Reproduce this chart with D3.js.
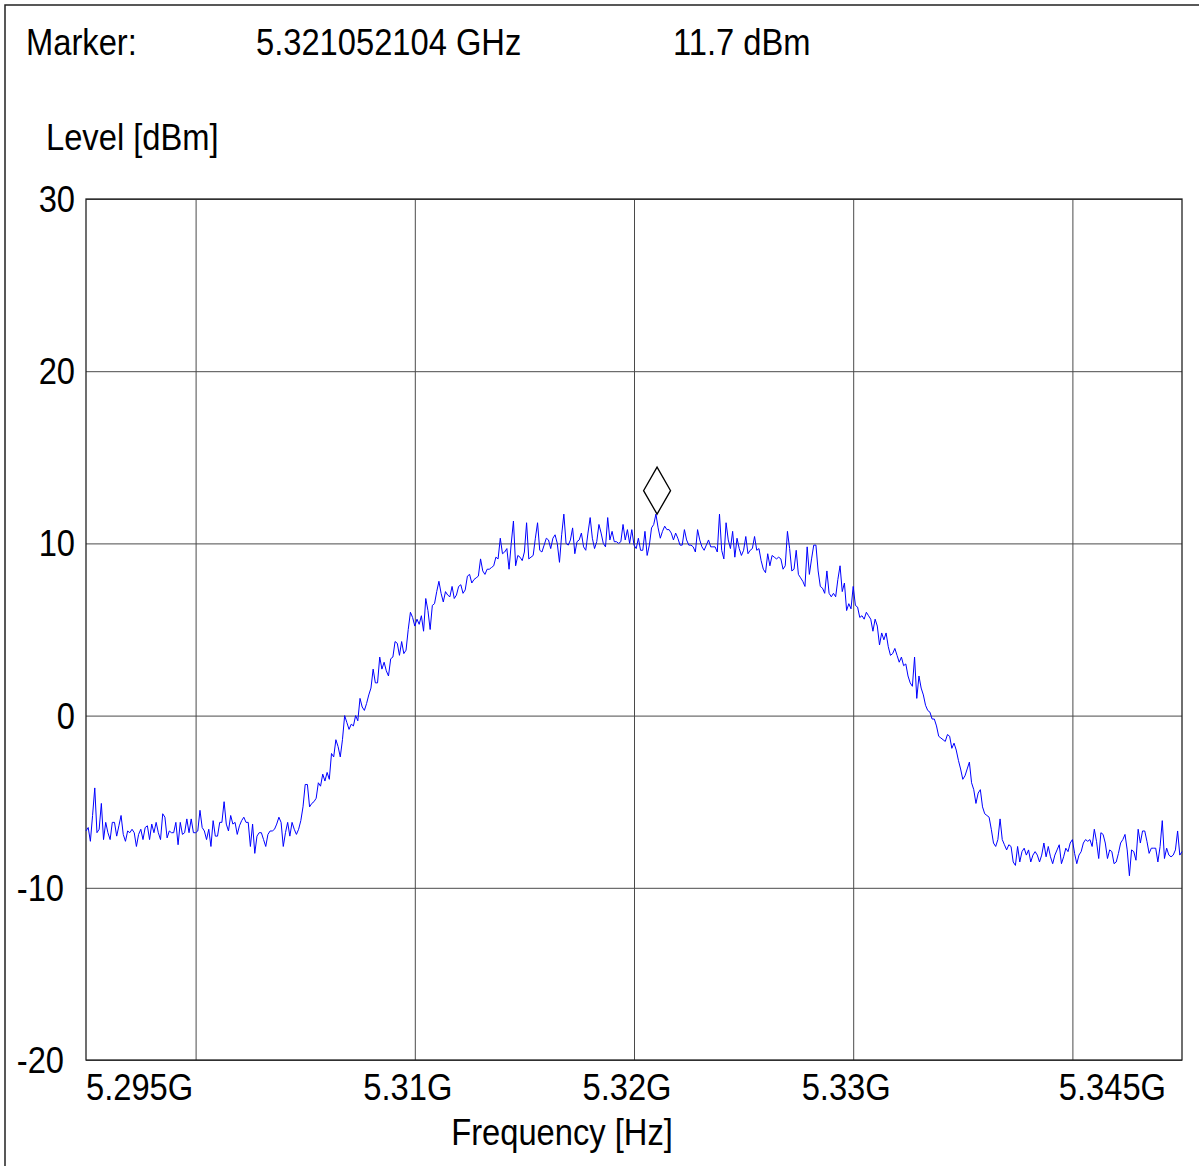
<!DOCTYPE html>
<html>
<head>
<meta charset="utf-8">
<script src="https://cdn.jsdelivr.net/npm/d3@7"></script>
<style>
  html, body { margin: 0; padding: 0; background: #fff; }
  svg { display: block; font-family: "Liberation Sans", Arial, sans-serif; }
</style>
</head>
<body>
<div id="chart"></div>
<script>
// sweep: 501 points, 0.1 MHz apart, starting at 5.295 GHz
const sweepStartHz = 5.295e9;
const sweepStepHz = 0.1e6;

const levelDbm = [
  -6.7,-6.5,-7.3,-5.8,-4.2,-6.8,-6.6,-5.1,-7.2,-6.2,
  -6.8,-7.2,-6.2,-6.2,-7.0,-6.4,-5.8,-6.9,-7.3,-6.7,
  -6.8,-6.6,-6.8,-7.6,-6.9,-6.6,-7.2,-6.5,-6.4,-7.2,
  -6.3,-6.8,-6.2,-6.8,-7.2,-5.7,-5.9,-7.1,-6.7,-6.8,
  -6.8,-6.2,-7.5,-6.2,-6.9,-6.8,-6.0,-6.8,-6.0,-6.8,
  -6.8,-6.7,-5.5,-6.5,-6.7,-7.2,-6.6,-7.6,-6.1,-7.0,
  -7.0,-6.2,-6.2,-5.0,-6.3,-6.7,-5.8,-6.3,-6.2,-6.9,
  -6.4,-6.1,-5.9,-6.2,-6.2,-7.6,-6.3,-8.0,-7.0,-6.8,
  -6.8,-7.2,-7.6,-6.9,-6.7,-6.7,-6.6,-6.3,-5.9,-6.2,
  -7.6,-6.8,-6.2,-7.0,-6.2,-6.6,-6.9,-6.6,-6.1,-5.3,
  -4.0,-4.0,-5.3,-5.1,-5.0,-4.8,-3.9,
  -4.1,-3.4,-3.8,-3.3,-3.7,-2.2,-2.4,-1.4,-1.8,-2.4,
  -1.4,0.0,-0.4,-0.8,-0.5,-0.6,0.0,-0.3,1.0,0.5,
  0.3,0.7,1.2,1.6,2.7,1.9,1.9,3.4,2.7,3.1,
  2.6,2.3,3.3,3.4,4.3,4.2,3.5,4.3,3.6,3.8,
  5.0,6.0,5.7,5.2,5.6,5.3,5.8,4.9,6.8,6.1,
  5.0,6.4,6.5,7.2,7.8,7.1,6.6,7.2,7.0,6.9,
  7.5,6.8,7.0,7.5,7.6,7.1,7.3,8.1,8.2,7.7,
  7.9,8.0,8.1,9.1,8.4,8.2,8.5,
  8.5,8.6,8.7,9.2,9.1,10.3,9.4,9.5,9.7,8.5,
  10.0,11.3,8.7,9.3,9.2,9.0,9.5,11.2,9.1,9.2,
  9.3,10.3,11.2,9.6,9.5,9.9,10.3,10.2,9.7,10.3,
  10.5,10.0,8.9,10.5,11.7,10.0,9.9,10.2,10.9,9.4,
  10.1,10.2,10.6,9.8,9.6,10.6,11.5,10.3,9.7,10.1,
  11.1,10.6,10.0,9.8,11.5,10.2,10.7,10.1,10.1,10.0,
  10.1,11.1,10.2,10.8,10.0,10.8,9.9,9.7,10.3,9.6,
  9.6,10.7,9.3,9.9,10.9,11.1,11.7,10.9,10.3,10.7,
  11.0,10.8,10.8,
  10.6,10.2,10.6,10.3,9.9,9.9,10.8,10.2,9.9,9.9,
  9.8,9.5,10.8,10.2,9.8,9.6,9.9,10.2,9.8,9.8,
  9.8,9.5,11.7,9.6,9.1,11.2,10.2,9.7,10.7,9.2,
  10.3,9.7,9.3,9.6,10.4,9.4,9.6,9.7,10.4,9.6,
  9.7,9.0,8.5,8.3,9.4,8.7,9.3,9.2,9.1,9.2,
  9.1,8.5,8.7,10.7,9.7,8.4,8.5,9.6,8.2,8.0,
  7.8,7.5,9.8,8.2,9.1,9.9,9.9,8.4,7.5,7.4,
  7.1,8.4,7.1,6.9,7.1,6.9,7.9,8.7,
  7.2,7.7,6.1,6.5,6.2,7.5,6.4,6.3,5.7,5.8,
  5.6,6.0,5.8,5.6,4.9,5.6,5.2,4.1,4.8,4.4,
  4.8,4.0,3.5,3.6,3.9,3.5,3.1,3.4,2.9,3.0,
  2.3,1.9,1.7,3.4,1.0,2.3,1.6,1.2,0.6,0.3,
  0.2,-0.2,-0.2,-0.6,-1.2,-1.3,-1.4,-1.5,-1.1,-1.2,
  -1.9,-1.6,-2.0,
  -2.6,-3.1,-3.7,-3.5,-3.1,-2.7,-3.9,-4.3,-5.1,-4.5,
  -4.3,-5.3,-5.7,-5.8,-5.9,-6.6,-7.4,-7.6,-7.2,-6.0,
  -7.2,-7.5,-7.8,-7.5,-7.6,-8.5,-8.7,-7.6,-8.5,-7.9,
  -7.7,-8.1,-7.8,-8.5,-8.1,-7.9,-8.1,
  -8.5,-8.1,-7.4,-8.2,-7.6,-8.2,-8.6,-8.1,-7.8,-7.5,
  -8.6,-8.2,-7.7,-7.9,-7.4,-7.2,-8.0,-8.6,-8.1,-7.9,
  -7.4,-7.2,-7.3,-7.2,-7.6,-6.6,-7.3,-8.3,-6.8,-6.9,
  -7.4,-8.3,-7.8,-7.9,-8.6,-8.5,-8.0,-7.4,-7.2,-6.9,
  -7.8,-9.3,-7.8,-7.9,-8.4,-6.6,-7.4,-6.7,-6.7,-7.3,
  -8.0,-7.7,-7.7,-7.7,-8.5,-7.6,-6.1,-8.3,-7.7,-8.1,
  -8.2,-8.1,-7.8,-6.7,-8.1,-7.9
];

const yTicks = [-20, -10, 0, 10, 20, 30];
const gridHz = [5.30e9, 5.31e9, 5.32e9, 5.33e9, 5.34e9];
const labelHz = [5.295e9, 5.31e9, 5.32e9, 5.33e9, 5.345e9];
const labelText = ['5.295G', '5.31G', '5.32G', '5.33G', '5.345G'];
const markerHz = 5.321052104e9;
const markerDbm = 11.7;

const width = 1199, height = 1166;
const plot = { left: 86, right: 1182, top: 199, bottom: 1060 };
const stretch = 1.13;   // the original text is taller than Arial

const data = levelDbm.map((v, i) => ({ f: sweepStartHz + i * sweepStepHz, v }));

const x = d3.scaleLinear().domain([5.295e9, 5.345e9]).range([plot.left, plot.right]);
const y = d3.scaleLinear().domain([-20, 30]).range([plot.bottom, plot.top]);

const svg = d3.select('#chart').append('svg')
  .attr('width', width)
  .attr('height', height);

svg.append('rect').attr('width', width).attr('height', height).attr('fill', '#fff');

// page frame
svg.append('path')
  .attr('d', `M5,${height} V5 H${width}`)
  .attr('fill', 'none')
  .attr('stroke', '#222')
  .attr('stroke-width', 1.5);

function label(sel, tx, ty, str, anchor) {
  return sel.append('text')
    .attr('transform', `translate(${tx},${ty}) scale(1,${stretch})`)
    .attr('text-anchor', anchor || 'start')
    .attr('font-size', 32.7)
    .attr('fill', '#000')
    .text(str);
}

// header
label(svg, 26, 55, 'Marker:');
label(svg, 256, 55, (markerHz / 1e9).toFixed(9) + ' GHz');
label(svg, 673, 55, markerDbm.toFixed(1) + ' dBm');
label(svg, 46, 150, 'Level [dBm]');

// grid
const gx = svg.append('g')
  .attr('transform', `translate(0,${plot.bottom})`)
  .call(d3.axisBottom(x).tickValues(gridHz).tickSize(-(plot.bottom - plot.top)).tickFormat(''));
const gy = svg.append('g')
  .attr('transform', `translate(${plot.left},0)`)
  .call(d3.axisLeft(y).tickValues(yTicks).tickSize(-(plot.right - plot.left)).tickFormat(''));
[gx, gy].forEach(g => {
  g.select('.domain').remove();
  g.selectAll('line').attr('stroke', '#4a4a4a').attr('stroke-width', 1);
});

// plot frame
svg.append('rect')
  .attr('x', plot.left).attr('y', plot.top)
  .attr('width', plot.right - plot.left).attr('height', plot.bottom - plot.top)
  .attr('fill', 'none')
  .attr('stroke', '#222')
  .attr('stroke-width', 1.3);

// y tick labels
yTicks.forEach(t => {
  label(svg, t < 0 ? 64 : 75, y(t) + 13, String(t), 'end');
});

// x tick labels
labelHz.forEach((f, i) => {
  const last = labelHz.length - 1;
  if (i === 0) label(svg, x(f), 1100, labelText[i], 'start');
  else if (i === last) label(svg, x(f) - 16, 1100, labelText[i], 'end');
  else label(svg, x(f) - 7, 1100, labelText[i], 'middle');
});

label(svg, 562, 1145, 'Frequency [Hz]', 'middle');

// trace
const line = d3.line().x(d => x(d.f)).y(d => y(d.v));
svg.append('path')
  .datum(data)
  .attr('d', line)
  .attr('fill', 'none')
  .attr('stroke', '#0000ff')
  .attr('stroke-width', 1)
  .attr('stroke-linejoin', 'round');

// marker diamond, tip on the marker point
const mx = x(markerHz), my = y(markerDbm);
svg.append('path')
  .attr('d', `M${mx},${my} L${mx - 13.5},${my - 23.5} L${mx},${my - 47} L${mx + 13.5},${my - 23.5} Z`)
  .attr('fill', 'none')
  .attr('stroke', '#000')
  .attr('stroke-width', 1.3);
</script>
</body>
</html>
